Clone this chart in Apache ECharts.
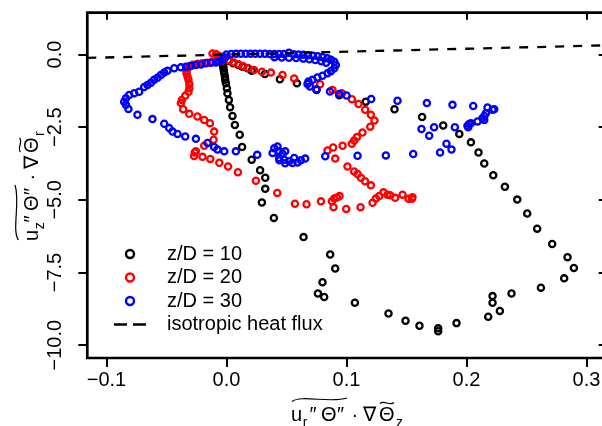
<!DOCTYPE html>
<html>
<head>
<meta charset="utf-8">
<script src="https://cdn.jsdelivr.net/npm/echarts@6/dist/echarts.min.js"></script>
<style>
  html, body { margin: 0; padding: 0; background: #ffffff; }
  #chart { width: 602px; height: 426px; }
</style>
</head>
<body>
<div id="chart"></div>
<script>
// Axis ranges and tick positions
const xLimits = [-0.116, 0.316];
const yLimits = [-10.44, 1.44];
const xTicks = [-0.1, 0.0, 0.1, 0.2, 0.3];
const yTicks = [0, -2.5, -5, -7.5, -10];

const seriesNames = ['z/D = 10', 'z/D = 20', 'z/D = 30', 'isotropic heat flux'];
const seriesColors = ['#000000', '#ff0000', '#0000ff'];

// [u_r''Θ''·∇Θz , u_z''Θ''·∇Θr] pairs along the radial profile
const zd10 = [
  [-0.004, -0.10], [-0.004, -0.17], [-0.0035, -0.24], [-0.0033, -0.30], [-0.0028, -0.39],
  [-0.0025, -0.47], [-0.0022, -0.56], [-0.0019, -0.64], [-0.0013, -0.76], [-0.0011, -0.87],
  [-0.0005, -0.99], [0.0003, -1.16], [0.0008, -1.33], [0.002, -1.56], [0.003, -1.81],
  [0.005, -2.11], [0.007, -2.42], [0.011, -2.76], [0.013, -3.18], [0.021, -3.62],
  [0.028, -3.98], [0.0323, -4.24], [0.0323, -4.62], [0.0295, -5.09], [0.0395, -5.62],
  [0.0642, -6.28], [0.0864, -6.88], [0.0906, -7.36], [0.080, -7.83], [0.0762, -8.22],
  [0.0814, -8.34], [0.107, -8.54], [0.135, -8.91], [0.1492, -9.16], [0.1608, -9.33],
  [0.1764, -9.42], [0.1764, -9.52], [0.1917, -9.24], [0.2181, -9.02], [0.2278, -8.82],
  [0.2217, -8.54], [0.2217, -8.31], [0.2375, -8.22], [0.262, -8.02], [0.2814, -7.70],
  [0.2895, -7.34], [0.2842, -6.97], [0.2714, -6.52], [0.2589, -5.99], [0.2506, -5.47],
  [0.2423, -4.99], [0.232, -4.55], [0.2223, -4.155], [0.2148, -3.75], [0.21, -3.37],
  [0.2037, -3.02], [0.194, -2.73], [0.1806, -2.44], [0.163, -2.15], [0.140, -1.88],
  [0.116, -1.62], [0.094, -1.40], [0.075, -1.22], [0.0587, -0.99], [0.0445, -0.85],
  [0.032, -0.67], [0.021, -0.56], [0.0175, -0.47], [0.0133, -0.42], [0.010, -0.36],
  [0.0056, -0.30], [0.002, -0.22]
];

const zd20 = [
  [-0.0117, 0.04], [-0.0088, 0.02], [-0.006, -0.05], [-0.003, -0.10],
  [-0.004, -0.22], [-0.008, -0.24], [-0.012, -0.26], [-0.016, -0.28], [-0.020, -0.30],
  [-0.024, -0.32], [-0.028, -0.35], [-0.031, -0.40], [-0.0325, -0.47], [-0.0333, -0.55],
  [-0.0333, -0.64], [-0.0325, -0.76], [-0.0317, -0.87], [-0.031, -1.01], [-0.031, -1.16],
  [-0.0317, -1.28], [-0.0344, -1.42], [-0.0372, -1.56], [-0.038, -1.67], [-0.0361, -1.88],
  [-0.031, -2.04], [-0.0242, -2.13], [-0.0186, -2.25], [-0.0138, -2.36], [-0.0103, -2.65],
  [-0.0108, -2.93], [-0.0186, -3.14], [-0.0255, -3.33], [-0.0265, -3.37], [-0.027, -3.49],
  [-0.020, -3.52], [-0.0135, -3.59], [-0.006, -3.72], [0.0013, -3.85], [0.0095, -4.05],
  [0.0245, -4.34], [0.0423, -4.76], [0.057, -5.13], [0.0667, -5.15], [0.0787, -5.05],
  [0.0878, -5.05], [0.0898, -4.95], [0.092, -4.92], [0.0942, -4.87], [0.0892, -5.25],
  [0.0998, -5.31], [0.1117, -5.25], [0.1217, -5.10], [0.1245, -4.95], [0.1273, -4.87],
  [0.1308, -4.74], [0.1342, -4.82], [0.1364, -4.84], [0.1406, -4.93], [0.1467, -4.82],
  [0.1517, -4.96], [0.155, -4.91], [0.1545, -4.96],
  [0.1203, -4.50], [0.1155, -4.36], [0.112, -4.24], [0.1092, -4.11], [0.1064, -4.02],
  [0.1008, -3.85], [0.0906, -3.58], [0.0842, -3.30], [0.0889, -3.20], [0.0967, -3.14],
  [0.1045, -3.07], [0.1064, -2.96], [0.1087, -2.84], [0.1133, -2.68], [0.1198, -2.48],
  [0.1233, -2.27], [0.1203, -2.07], [0.1156, -1.90], [0.110, -1.70], [0.1045, -1.54],
  [0.0962, -1.33], [0.0883, -1.22], [0.078, -1.02], [0.0564, -0.82], [0.0467, -0.70],
  [0.037, -0.62], [0.0295, -0.59], [0.023, -0.53], [0.018, -0.46], [0.014, -0.40],
  [0.010, -0.33], [0.006, -0.27], [0.002, -0.20]
];

const zd30 = [
  [0.000, 0.00], [0.004, 0.02], [0.008, 0.03], [0.012, 0.03], [0.016, 0.03], [0.020, 0.03],
  [0.024, 0.03], [0.028, 0.03], [0.032, 0.03], [0.036, 0.02], [0.040, 0.02], [0.044, 0.02],
  [0.048, 0.02], [0.052, 0.06], [0.056, 0.01], [0.060, 0.00], [0.064, -0.01], [0.068, -0.02],
  [0.072, -0.04], [0.076, -0.06], [0.080, -0.09], [0.084, -0.13], [0.087, -0.18],
  [0.040, -0.09], [0.046, -0.10], [0.052, -0.11], [0.058, -0.12], [0.064, -0.14],
  [0.069, -0.16], [0.074, -0.19], [0.079, -0.23], [0.083, -0.28],
  [0.0898, -0.25], [0.0911, -0.36], [0.0898, -0.47], [0.087, -0.57], [0.0842, -0.64],
  [0.080, -0.73], [0.0758, -0.79], [0.0717, -0.87], [0.0683, -0.93], [0.0675, -1.01],
  [0.0695, -1.10], [0.075, -1.19], [0.0862, -1.27], [0.094, -1.36], [0.100, -1.41],
  [0.1206, -1.53], [0.1425, -1.59], [0.167, -1.67], [0.1883, -1.73], [0.2056, -1.77],
  [0.2175, -1.82], [0.2231, -1.88], [0.2217, -1.90], [0.2162, -2.02], [0.2148, -2.11],
  [0.2133, -2.19], [0.2148, -2.25], [0.2092, -2.30], [0.2037, -2.36], [0.2023, -2.39],
  [0.2008, -2.45], [0.2014, -2.50], [0.1903, -2.50], [0.173, -2.50], [0.1625, -2.56],
  [0.1689, -2.79], [0.1833, -3.07], [0.1875, -3.27], [0.178, -3.37], [0.1556, -3.42],
  [0.1328, -3.47], [0.1092, -3.48], [0.0823, -3.50], [0.0656, -3.58], [0.062, -3.64],
  [0.0592, -3.71], [0.0564, -3.56], [0.055, -3.73], [0.0523, -3.67], [0.048, -3.62],
  [0.0439, -3.56], [0.0489, -3.33], [0.0467, -3.41], [0.0439, -3.33], [0.0425, -3.16],
  [0.0398, -3.22], [0.0384, -3.39], [0.0441, -3.64], [0.0489, -3.74], [0.0256, -3.45],
  [0.0078, -3.33], [-0.0019, -3.33], [-0.0075, -3.27], [-0.0103, -3.18], [-0.0158, -3.04],
  [-0.0255, -2.90], [-0.0344, -2.82], [-0.0408, -2.73], [-0.045, -2.65], [-0.0478, -2.53],
  [-0.0519, -2.38], [-0.0617, -2.22], [-0.0742, -2.07], [-0.0817, -1.87], [-0.0838, -1.73],
  [-0.0853, -1.62], [-0.0838, -1.50], [-0.0811, -1.39], [-0.0769, -1.33], [-0.0728, -1.28],
  [-0.0686, -1.12], [-0.0658, -1.05], [-0.063, -0.97], [-0.0603, -0.87], [-0.0575, -0.80],
  [-0.0547, -0.70], [-0.0519, -0.62], [-0.0492, -0.56], [-0.0436, -0.47], [-0.038, -0.44],
  [-0.0338, -0.42], [-0.0297, -0.39], [-0.0255, -0.36], [-0.0213, -0.34], [-0.0172, -0.30],
  [-0.013, -0.28], [-0.0088, -0.27], [-0.0061, -0.25], [-0.003, -0.18], [-0.001, -0.10]
];

// Reference line y = x spanning the whole x range
const isotropic = [[xLimits[0], xLimits[0]], [xLimits[1], xLimits[1]]];

const FONT = '"Liberation Sans", Arial, Helvetica, sans-serif';
const minusFmt = v => v.toFixed(1).replace('-', '\u2212');

// Math-style axis title: widetilde(u_a''Θ'') · ∇ tilde(Θ)_b, origin at the baseline start
function titleParts(subA, subB) {
  const t = (text, x, fs, dy) => ({
    type: 'text', x: x, y: (dy || 0) - 0.33 * fs,
    style: { text: text, fontSize: fs, fontFamily: FONT, fill: '#000', verticalAlign: 'middle', align: 'left' }
  });
  const curve = (x1, y1, c1x, c1y, c2x, c2y, x2, y2) => ({
    type: 'bezierCurve',
    shape: { x1: x1, y1: y1, cpx1: c1x, cpy1: c1y, cpx2: c2x, cpy2: c2y, x2: x2, y2: y2 },
    style: { stroke: '#000', lineWidth: 1.2, fill: null }
  });
  return [
    t('u', 0, 20), t(subA, 11.8, 14, 5), t('\u2033', 18.5, 20), t('\u0398', 30, 20),
    t('\u2033', 46, 20), t('\u00B7', 60.5, 20), t('\u2207', 72, 20), t('\u0398', 88, 20),
    t(subB, 105, 14, 5),
    curve(1, -21, 10, -28, 40, -19, 56, -24.5),
    curve(89, -19, 93, -23, 99, -16, 103, -20)
  ];
}

const scatterSeries = [zd10, zd20, zd30].map((d, i) => ({
  name: seriesNames[i],
  type: 'scatter',
  data: d,
  symbol: 'circle',
  symbolSize: 6.2,
  itemStyle: { color: 'rgba(0,0,0,0)', borderColor: seriesColors[i], borderWidth: 2.3, opacity: 1 },
  emphasis: { disabled: true },
  z: 3 + i
}));

const tickStyle = { color: '#000', width: 2 };

const chart = echarts.init(document.getElementById('chart'), null, { renderer: 'canvas' });
chart.setOption({
  animation: false,
  backgroundColor: '#ffffff',
  textStyle: { fontFamily: FONT },
  grid: {
    left: 87.3, top: 12.7, width: 518.4, height: 345.3,
    show: true, borderColor: '#000', borderWidth: 2.7, backgroundColor: 'transparent',
    containLabel: false, outerBoundsMode: 'none'
  },
  xAxis: [
    {
      type: 'value', position: 'bottom', min: xLimits[0], max: xLimits[1],
      axisLine: { show: false, onZero: false }, splitLine: { show: false },
      axisTick: { show: true, customValues: xTicks, length: 9, lineStyle: tickStyle },
      axisLabel: { show: true, customValues: xTicks, formatter: minusFmt, fontSize: 20, color: '#000', fontFamily: FONT, margin: 12 }
    },
    {
      type: 'value', position: 'top', min: xLimits[0], max: xLimits[1],
      axisLine: { show: false, onZero: false }, splitLine: { show: false },
      axisTick: { show: true, inside: true, customValues: xTicks, length: 7, lineStyle: tickStyle },
      axisLabel: { show: false }
    }
  ],
  yAxis: [
    {
      type: 'value', position: 'left', min: yLimits[0], max: yLimits[1],
      axisLine: { show: false, onZero: false }, splitLine: { show: false },
      axisTick: { show: true, customValues: yTicks, length: 9, lineStyle: tickStyle },
      axisLabel: { show: true, customValues: yTicks, formatter: minusFmt, rotate: 90, fontSize: 20, color: '#000', fontFamily: FONT, margin: 22 }
    },
    {
      type: 'value', position: 'right', min: yLimits[0], max: yLimits[1],
      axisLine: { show: false, onZero: false }, splitLine: { show: false },
      axisTick: { show: true, inside: true, customValues: yTicks, length: 7, lineStyle: tickStyle },
      axisLabel: { show: false }
    }
  ],
  legend: {
    orient: 'vertical', left: 114, top: 244, padding: 0,
    itemWidth: 32, itemHeight: 8, itemGap: 3.5,
    selectedMode: false,
    itemStyle: { borderWidth: 2.4 },
    textStyle: { fontSize: 20, fontFamily: FONT, color: '#000', lineHeight: 20, padding: [0, 0, 0, 16] },
    data: [
      { name: seriesNames[0], icon: 'circle' },
      { name: seriesNames[1], icon: 'circle' },
      { name: seriesNames[2], icon: 'circle' },
      { name: seriesNames[3], icon: 'path://M0,0h13v2.4h-13z M19,0h13v2.4h-13z', itemStyle: { color: '#000', borderWidth: 0 } }
    ]
  },
  graphic: [
    { type: 'group', x: 291, y: 422.5, children: titleParts('r', 'z') },
    { type: 'group', x: 39.5, y: 241, rotation: Math.PI / 2, children: titleParts('z', 'r') }
  ],
  series: scatterSeries.concat([{
    name: seriesNames[3],
    type: 'line',
    data: isotropic,
    symbol: 'none',
    showSymbol: false,
    color: '#000',
    lineStyle: { color: '#000', width: 2.3, type: [9, 9] },
    emphasis: { disabled: true },
    silent: true,
    z: 10
  }])
});
</script>
</body>
</html>
